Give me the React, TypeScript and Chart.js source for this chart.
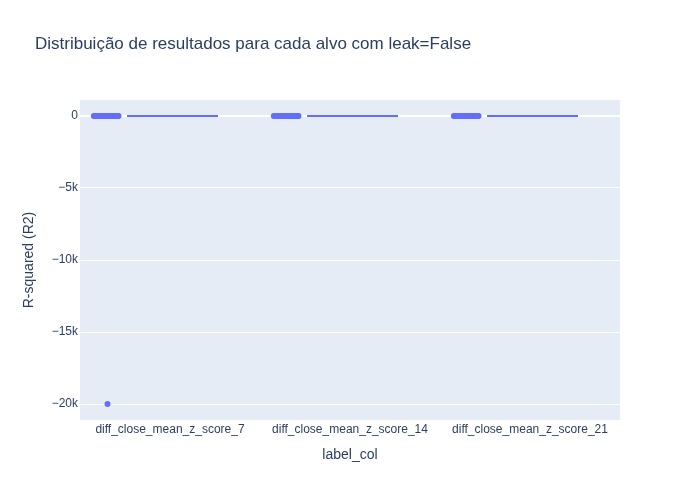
import React, { useEffect, useRef } from "react";
import { Chart, registerables } from "chart.js";

Chart.register(...registerables);

const categories = [
  "diff_close_mean_z_score_7",
  "diff_close_mean_z_score_14",
  "diff_close_mean_z_score_21",
];

// R2 values per target (most values are close to zero)
const valuesScore7 = [
  0.12, -0.05, 0.31, -0.42, 0.08, -0.9, 0.22, -1.3, 0.04, -0.18, 0.27, -0.66,
  0.15, -2.1, 0.01, -0.33, 0.19, -0.07, -3.4, 0.11, -0.25, 0.06, -0.5, 0.2,
  -0.12, 0.09, -1.8, 0.03, -0.14, 0.24, -20000,
];
const valuesScore14 = [
  0.1, -0.08, 0.26, -0.37, 0.05, -0.81, 0.18, -1.1, 0.02, -0.21, 0.3, -0.55,
  0.13, -1.9, 0.0, -0.29, 0.17, -0.04, -2.8, 0.09, -0.22, 0.07, -0.45, 0.16,
  -0.1, 0.11, -1.5, 0.02, -0.16, 0.21,
];
const valuesScore21 = [
  0.09, -0.06, 0.28, -0.4, 0.06, -0.72, 0.2, -1.2, 0.03, -0.19, 0.25, -0.6,
  0.14, -2.3, 0.01, -0.31, 0.16, -0.09, -3.1, 0.1, -0.24, 0.05, -0.48, 0.18,
  -0.11, 0.08, -1.6, 0.04, -0.13, 0.22,
];
const allValues = [valuesScore7, valuesScore14, valuesScore21];

// box statistics per target
const q1s = [-0.4, -0.37, -0.4];
const medians = [0.02, 0.01, 0.02];
const q3s = [0.15, 0.14, 0.14];
const lowerFences = [-3.4, -2.8, -3.1];
const upperFences = [0.31, 0.3, 0.28];

const yTickValues = [0, -5000, -10000, -15000, -20000];
const yTickLabels = ["0", "\u22125k", "\u221210k", "\u221215k", "\u221220k"];

const COLOR = "#636efa";
const FONT = "'Liberation Sans', Arial, sans-serif";
const TEXT = "#2a3f5f";

const POINT_CENTER = 0.147;
const POINT_SPREAD = 0.14;
const BOX_LEFT = 0.267;
const BOX_RIGHT = 0.761;

export default function App() {
  const ref = useRef<HTMLCanvasElement | null>(null);

  useEffect(() => {
    if (!ref.current) return;

    const pointData: { x: number; y: number }[] = [];
    allValues.forEach((vals, ci) => {
      vals.forEach((v, i) => {
        const frac = ((i * 0.6180339) % 1) - 0.5;
        pointData.push({ x: ci + POINT_CENTER + frac * POINT_SPREAD, y: v });
      });
    });

    const decor = {
      id: "decor",
      beforeDraw(chart: any) {
        const { ctx, chartArea } = chart;
        ctx.save();
        ctx.fillStyle = "#ffffff";
        ctx.fillRect(0, 0, chart.width, chart.height);
        ctx.fillStyle = "#e5ecf6";
        ctx.fillRect(
          chartArea.left,
          chartArea.top,
          chartArea.right - chartArea.left,
          chartArea.bottom - chartArea.top
        );
        ctx.restore();
      },
      afterDatasetsDraw(chart: any) {
        const { ctx, chartArea, scales } = chart;
        const xs = scales.x;
        const ys = scales.y;
        ctx.save();
        ctx.beginPath();
        ctx.rect(
          chartArea.left,
          chartArea.top,
          chartArea.right - chartArea.left,
          chartArea.bottom - chartArea.top
        );
        ctx.clip();
        categories.forEach((_, ci) => {
          const x0 = xs.getPixelForValue(ci + BOX_LEFT);
          const x1 = xs.getPixelForValue(ci + BOX_RIGHT);
          const xm = (x0 + x1) / 2;
          const yq1 = ys.getPixelForValue(q1s[ci]);
          const yq3 = ys.getPixelForValue(q3s[ci]);
          const ymed = ys.getPixelForValue(medians[ci]);
          const ylo = ys.getPixelForValue(lowerFences[ci]);
          const yhi = ys.getPixelForValue(upperFences[ci]);
          ctx.lineWidth = 2;
          ctx.strokeStyle = COLOR;
          ctx.fillStyle = "rgba(99,110,250,0.5)";
          ctx.fillRect(x0, yq3, x1 - x0, yq1 - yq3);
          ctx.strokeRect(x0, yq3, x1 - x0, yq1 - yq3);
          ctx.beginPath();
          ctx.moveTo(x0, ymed);
          ctx.lineTo(x1, ymed);
          ctx.moveTo(xm, yq1);
          ctx.lineTo(xm, ylo);
          ctx.moveTo(xm, yq3);
          ctx.lineTo(xm, yhi);
          ctx.stroke();
        });
        ctx.restore();
      },
      afterDraw(chart: any) {
        const { ctx, chartArea } = chart;
        ctx.save();
        ctx.fillStyle = TEXT;
        ctx.font = `17px ${FONT}`;
        ctx.textAlign = "left";
        ctx.textBaseline = "middle";
        ctx.fillText(
          "Distribuição de resultados para cada alvo com leak=False",
          35,
          44
        );
        ctx.font = `14px ${FONT}`;
        ctx.textAlign = "center";
        ctx.fillText("label_col", (chartArea.left + chartArea.right) / 2, 455);
        ctx.translate(29, (chartArea.top + chartArea.bottom) / 2);
        ctx.rotate(-Math.PI / 2);
        ctx.fillText("R-squared (R2)", 0, 0);
        ctx.restore();
      },
    };

    const chart = new Chart(ref.current, {
      type: "scatter",
      data: {
        datasets: [
          {
            label: "R2",
            data: pointData,
            backgroundColor: COLOR,
            borderWidth: 0,
            pointRadius: 3,
            pointHoverRadius: 3,
          },
        ],
      },
      options: {
        animation: false,
        responsive: false,
        maintainAspectRatio: false,
        layout: { padding: { left: 0, right: 80, top: 100, bottom: 0 } },
        plugins: {
          legend: { display: false },
          title: { display: false },
          tooltip: { enabled: false },
        },
        scales: {
          x: {
            type: "linear",
            min: 0,
            max: categories.length,
            grid: { display: false, drawTicks: false },
            border: { display: false },
            afterBuildTicks: (scale: any) => {
              scale.ticks = categories.map((_, i) => ({ value: i + 0.5 }));
            },
            afterFit: (scale: any) => {
              scale.height = 80;
            },
            ticks: {
              color: TEXT,
              font: { family: FONT, size: 12 },
              padding: 2,
              maxRotation: 0,
              autoSkip: false,
              callback: (v: any) => categories[Math.round(Number(v) - 0.5)] ?? "",
            },
          },
          y: {
            type: "linear",
            min: -21111,
            max: 1111,
            grid: {
              color: "#ffffff",
              lineWidth: (c: any) => (c.tick && c.tick.value === 0 ? 2 : 1),
              drawTicks: false,
            },
            border: { display: false },
            afterBuildTicks: (scale: any) => {
              scale.ticks = yTickValues.map((v) => ({ value: v }));
            },
            afterFit: (scale: any) => {
              scale.width = 80;
            },
            ticks: {
              color: TEXT,
              font: { family: FONT, size: 12 },
              padding: 2,
              autoSkip: false,
              callback: (v: any) => {
                const idx = yTickValues.indexOf(Number(v));
                return idx >= 0 ? yTickLabels[idx] : "";
              },
            },
          },
        },
      },
      plugins: [decor],
    } as any);

    return () => chart.destroy();
  }, []);

  return (
    <div style={{ position: "fixed", left: 0, top: 0, width: 700, height: 500 }}>
      <canvas ref={ref} width={700} height={500} style={{ width: 700, height: 500 }} />
    </div>
  );
}
